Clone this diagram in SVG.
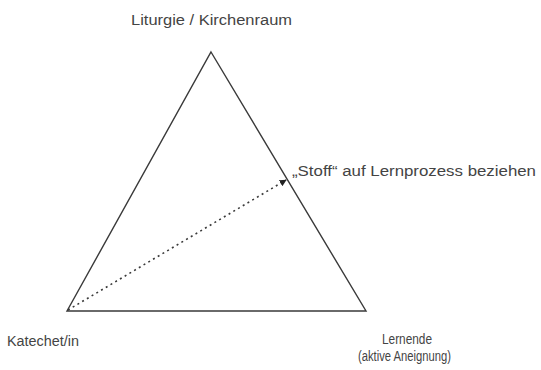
<svg xmlns="http://www.w3.org/2000/svg" width="541" height="370" viewBox="0 0 541 370">
<style>
text{font-family:"Liberation Sans",Arial,sans-serif;font-size:14px;fill:#444}
.sm{font-size:14px}
.edge{stroke:#3a3a3a;stroke-width:1.4;fill:none}
.dot{stroke:#3a3a3a;stroke-width:1.6;fill:none;stroke-dasharray:2 3.5}
</style>
<defs>
<marker id="ah" viewBox="0 0 10 10" refX="9" refY="5" markerWidth="7" markerHeight="7" markerUnits="userSpaceOnUse" orient="auto"><path d="M0,0 L10,5 L0,10 z" fill="#222"/></marker>
</defs>
<rect width="541" height="370" fill="#fff"/>
<g id="triangle"><path class="edge" d="M211,52 L366,311 L67,311 Z"/></g>
<g id="connectors"><line class="dot" x1="68" y1="310" x2="286" y2="180" marker-end="url(#ah)"/></g>
<g id="liturgie"><text x="131" y="25" textLength="161" lengthAdjust="spacingAndGlyphs">Liturgie / Kirchenraum</text></g>
<g id="stoff"><text x="292" y="176" textLength="244" lengthAdjust="spacingAndGlyphs">„Stoff“ auf Lernprozess beziehen</text></g>
<g id="katechet"><text x="7" y="346" textLength="72" lengthAdjust="spacingAndGlyphs">Katechet/in</text></g>
<g id="lernende"><text class="sm" x="382" y="344" textLength="50" lengthAdjust="spacingAndGlyphs">Lernende</text><text class="sm" x="358" y="361" textLength="93" lengthAdjust="spacingAndGlyphs">(aktive Aneignung)</text></g>
</svg>
